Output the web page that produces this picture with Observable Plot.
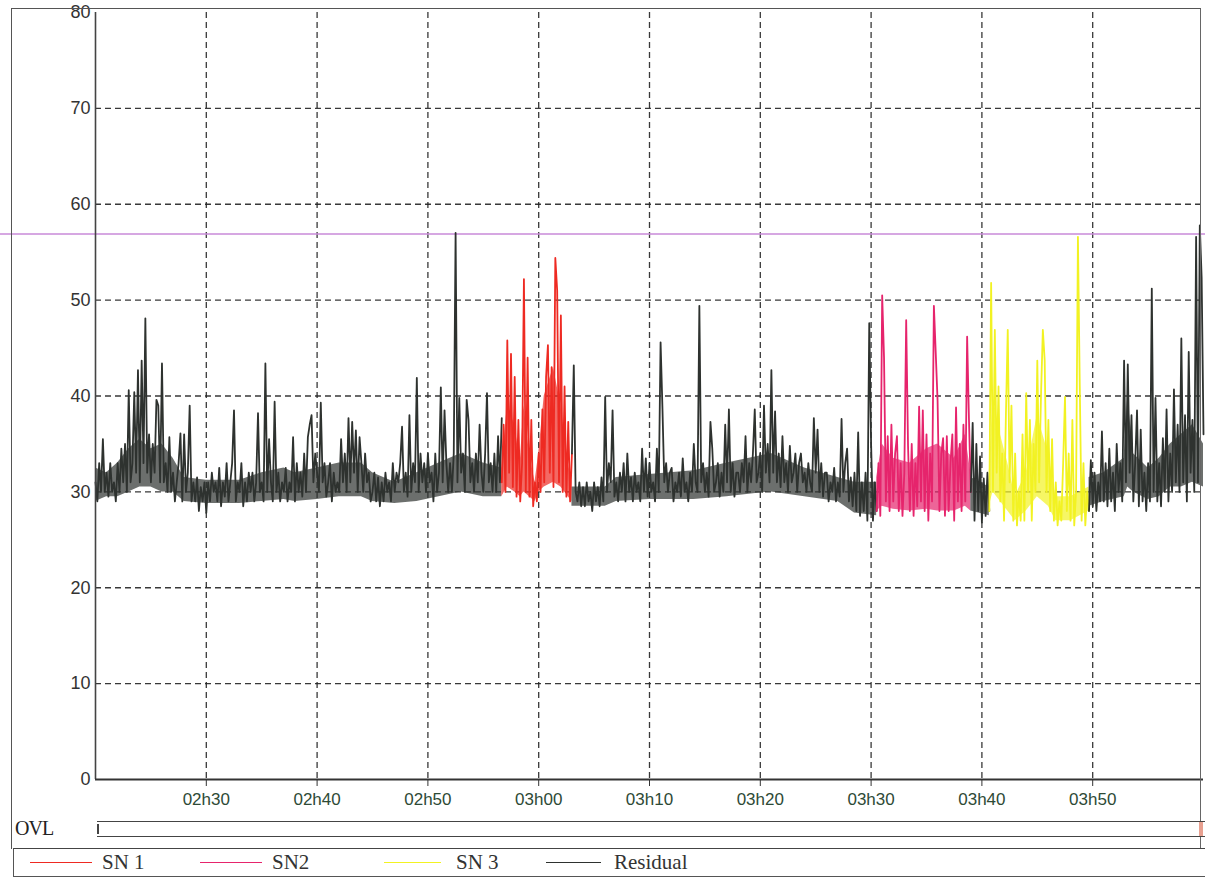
<!DOCTYPE html>
<html>
<head>
<meta charset="utf-8">
<script src="https://cdn.jsdelivr.net/npm/d3@7"></script>
<script src="https://cdn.jsdelivr.net/npm/@observablehq/plot@0.6"></script>
<style>
  html, body { margin: 0; padding: 0; background: #fff; }
  body { width: 1205px; height: 877px; position: relative; overflow: hidden; font-family: "Liberation Sans", Arial, sans-serif; }
  #chart { position: absolute; left: 0; top: 0; }
  #frame { position: absolute; left: 11px; top: 8px; width: 1188px; height: 840px; border-left: 1.5px solid #555; border-top: 1.5px solid #555; border-right: 1.5px solid #666; }
  #ovlLabel { position: absolute; left: 15px; top: 817px; font-family: "Liberation Serif", "Times New Roman", serif; font-size: 20px; color: #222; letter-spacing: -1px; }
  #ovlBar { position: absolute; left: 97px; top: 821px; width: 1108px; height: 14px; border-top: 1.5px solid #444; border-bottom: 1.5px solid #444; }
  #ovlTick { position: absolute; left: 0px; top: 2px; width: 1.5px; height: 10px; background: #444; }
  #ovlEnd { position: absolute; right: 2px; top: 0px; width: 4px; height: 14px; background: #e8a090; }
  #legendBox { position: absolute; left: 13px; top: 848px; width: 1192px; height: 27px; border-top: 1.5px solid #444; border-left: 1.5px solid #555; border-bottom: 1.5px solid #555; }
  .swatch { position: absolute; top: 13px; height: 1.4px; }
  .lbl { position: absolute; top: 1px; font-family: "Liberation Serif", "Times New Roman", serif; font-size: 21px; color: #333; white-space: nowrap; }
</style>
</head>
<body>
<div id="chart"></div>
<div id="frame"></div>
<div id="ovlLabel">OVL</div>
<div id="ovlBar"><div id="ovlTick"></div><div id="ovlEnd"></div></div>
<div id="legendBox"></div>
<script>
// ---------- data ----------
const day = "2000-01-01T";
const domainStart = "02:20:00";
const domainEnd = "04:00:00";
const xTickTimes = ["02:30","02:40","02:50","03:00","03:10","03:20","03:30","03:40","03:50"];
const xTickLabels = ["02h30","02h40","02h50","03h00","03h10","03h20","03h30","03h40","03h50"];
const yTicks = [0,10,20,30,40,50,60,70,80];
const yGrid = [10,20,30,40,50,60,70];
const thresholdLevel = 56.9;
const sampleSeconds = 10;

const seriesNames = ["SN 1","SN2","SN 3","Residual"];
const seriesColors = ["#ee2a22","#e6246c","#f2f222","#2e322f"];

// Residual, 02h20:00 -> 02h56:40 (10 s samples)
const residual1Start = "02:20:00";
const residual1 = [
  31,29,33,30,35.5,30,
  32,29.5,33,30,31,29,
  33,30,34.5,31,35,30,
  40.6,31,33,40.4,32,42.7,
  31,43.7,33,48.1,32,36,
  31,35,32,39.6,39,31,
  43.4,31,33,30,35.7,30,
  32,29,31,33,36.1,29,
  36,30,32,39,29,31,
  29,31.5,28,30.5,29,31,
  27.8,31,29,32,30,31,
  29,32.5,28.5,31,29.5,33,
  29,31,33,38.5,29,31,
  30,33,28.5,31,29,32,
  30,32,29,31,38.2,30,
  31,29,43.4,30,35.5,31,
  29,39.4,30,32,29,31,
  30,32.5,29,31,30,35.7,
  29,33,30,32,29.5,34,
  30,35.7,37,38,31,34,
  32,30,39.3,31,33,29.5,
  31,33,29,32,30,31,
  30,35.5,31,34,30,37.7,
  31,37.3,32,36.4,30,35.7,
  33,30,34,31,32,29,
  30,32,29,31.5,28.5,31,
  29,32,30,31,29,33,
  30,32,31,33,36.8,30,
  32,29.5,38,30,33,31,
  41.9,30,34,31,33,30,
  34,31,32,29,34,30,
  32,40.9,31,38.5,33,30,
  33,30,34,57,31,39.8,
  32,34,30,39.6,37.5,31,
  33,30,34,31,37,32,
  30,34,40.3,31,33,30,
  34,30,35.8,31,37.7
];

// SN 1, 02h56:40 -> 03h03:00
const sn1Start = "02:56:40";
const sn1 = [
  31,37,30,45.8,32,44.4,30.5,42,29.5,37.5,29,33,52.2,30,44,29.5,37.5,28.5,31,29,
  34,30,38.6,31,42,45.3,32,43,30.5,54.4,51,31,48.4,30,41,29.5,37.3,29,34
];

// Residual, 03h03:00 -> 03h30:30
const residual2Start = "03:03:00";
const residual2 = [
  34,43.2,30,29,31,28.5,
  30.5,28.5,31,29,30,28,
  31,29,30.5,28.5,31.5,29,
  39.9,30,33,31,38.5,29.5,
  31,29,32,30,33,29,
  34,30,31.5,29,32,30,
  31,29,34.5,30,33.5,29.5,
  33,30,31,29,34.5,30,
  45.6,38.8,31,33,30,32,
  32.5,29,31,30,32,29.5,
  33.5,30,31,29,32,30,
  35,31,30,49.4,31,33,
  30,32,29.5,37.3,34.5,30,
  31,33,29.5,32,30,37,
  31,38.6,30,33,29.5,32,
  32,30,33,31,35.8,30,
  33,31,34,38.6,31,32,
  34,30,39,32,35,31,
  42.7,32,38.4,31,34,30.5,
  35.8,31,33,30,34.8,31,
  32,34,30,33,34,31,
  32,30,33,31,30,37.7,
  32,36.5,30,33,29.5,32,
  32,29,31,30,32.5,29,
  31,29.5,37.6,30,33,34.5,
  29,31.5,28.5,32,28,36.2,
  27.5,31,28,32,27,47.6,
  35,27,31,28
];

// SN2, 03h30:30 -> 03h39:00
const sn2Start = "03:30:30";
const sn2 = [
  28,33,27.5,50.5,44,29,35.8,28,37,29,34,35.8,28,33,27.5,32,47.9,34.8,28,35,
  27.5,33,28.5,38.9,29,38.5,28,36,27,34,29,49.4,44.5,39.5,28,34,35.6,27.5,35.8,28,
  33,36,27,38.8,29,35,28,37,29,46.2,37.5,30
];

// Residual, 03h39:00 -> 03h40:40
const residual3Start = "03:39:00";
const residual3 = [30,37.2,27,35,28,33.7,26.8,31.4,27.5,32,28];

// SN 3, 03h40:40 -> 03h49:40
const sn3Start = "03:40:40";
const sn3 = [
  28,51.8,30,46.9,32,41,29,34,27,38,46.9,31,39,27,34,26.5,30,27,36,27,
  40.3,30,37.5,27,35,30,43.7,31,40,46.9,43.7,30,37.5,28,35.5,27,31,26.5,29,27,
  33,39.9,28,34,27,37.5,26.5,30,56.6,41,27,33,26.5,30,28
];

// Residual, 03h49:40 -> 04h00:00
const residual4Start = "03:49:40";
const residual4 = [
  28,33.3,28.5,32,28,31,29,36.3,29,33,28.5,34.5,29,32,28,35,30,33,29,43.7,
  31,43.3,32,38,29,33,38.5,28.5,36.5,29,32,28,33,29,51.2,30,39.8,29,33,28.5,
  35.6,30,38.6,29,34,30,40.7,31,37,30,46,31,38,29,44.6,32,37.5,30,56.6,31,
  57.8,52.3,36
];

// Dense core of each trace (where the 1 s samples pile up): [time, low, high]
const residual1Core = [
  ["02:20:00",29,32.5],["02:21:00",29.5,32],["02:22:00",29.5,33],["02:23:00",30,34.5],
  ["02:24:00",30.5,35.5],["02:25:00",30.5,34.5],["02:26:00",30,35],["02:27:00",30,33.5],
  ["02:28:00",29,31.5],["02:30:00",28.8,31.2],["02:33:00",28.8,31.2],["02:35:00",29,32],
  ["02:37:00",29.2,32.5],["02:38:00",29,32],["02:40:00",29.2,32.5],["02:42:00",29.5,33],
  ["02:44:00",29.5,33],["02:45:00",29,32],["02:47:00",28.8,31],["02:49:00",29,32],
  ["02:51:00",29.5,33],["02:53:00",30,34],["02:55:00",29.5,33],["02:56:40",29.5,32.5]
];
const sn1Core = [
  ["02:56:40",29.5,32.5],["02:57:10",30.5,39],["02:57:50",30,37],["02:58:20",29.5,33],
  ["02:58:40",30,39],["02:59:10",29.5,34],["02:59:40",29,31],["03:00:00",30,34],
  ["03:00:30",30.5,40],["03:01:20",31,43],["03:02:00",30.5,39],["03:02:40",29.5,33],["03:03:00",29,31]
];
const residual2Core = [
  ["03:03:00",28.5,30.5],["03:06:00",28.5,30.5],["03:07:00",29,31.5],["03:10:00",29.2,31.8],
  ["03:14:00",29.2,32.2],["03:17:00",29.5,33],["03:21:00",30,34],["03:24:00",29.5,32.5],
  ["03:27:00",29,31.5],["03:28:30",27.8,31],["03:30:30",27.5,31]
];
const sn2Core = [
  ["03:30:30",28,31.5],["03:31:00",28.5,35],["03:32:00",28.2,33.5],["03:33:30",28,33],
  ["03:35:00",28.2,34.5],["03:36:00",28,35],["03:37:30",28,33.5],["03:38:30",28.5,36],["03:39:00",28,32]
];
const residual3Core = [["03:39:00",28,31.5],["03:40:40",27.5,30.5]];
const sn3Core = [
  ["03:40:40",28.5,32],["03:41:00",30,40],["03:41:40",29,36],["03:42:20",28,33],
  ["03:43:00",27,29.5],["03:44:00",28,32],["03:45:00",29.5,38],["03:46:00",28.5,34],
  ["03:46:40",27,29.5],["03:48:00",27,29.5],["03:49:40",28,30.5]
];
const residual4Core = [
  ["03:49:40",28.5,31.5],["03:51:00",29,32],["03:52:50",29.5,33.5],["03:53:10",30.5,40],
  ["03:53:40",30,34],["03:55:00",29.2,32.5],["03:56:00",29.5,33.5],["03:57:00",30.5,35],
  ["03:58:00",30.5,36],["03:59:00",31,37],["04:00:00",30.5,35]
];

const segments = [
  {series: "Residual", start: residual1Start, values: residual1, core: residual1Core},
  {series: "SN 1", start: sn1Start, values: sn1, core: sn1Core},
  {series: "Residual", start: residual2Start, values: residual2, core: residual2Core},
  {series: "SN2", start: sn2Start, values: sn2, core: sn2Core},
  {series: "Residual", start: residual3Start, values: residual3, core: residual3Core},
  {series: "SN 3", start: sn3Start, values: sn3, core: sn3Core},
  {series: "Residual", start: residual4Start, values: residual4, core: residual4Core}
];

// ---------- build ----------
const toDate = (hms) => new Date(day + (hms.length === 5 ? hms + ":00" : hms));
const rows = [];
const coreRows = [];
segments.forEach((seg, k) => {
  const t0 = toDate(seg.start).getTime();
  seg.values.forEach((v, i) => {
    rows.push({seg: k, series: seg.series, time: new Date(t0 + i * sampleSeconds * 1000), value: v});
  });
  seg.core.forEach(([t, lo, hi]) => {
    coreRows.push({seg: k, series: seg.series, time: toDate(t), lo, hi});
  });
});

const xStart = toDate(domainStart);
const xEnd = toDate(domainEnd);
const xTickDates = xTickTimes.map(toDate);
const labelFor = new Map(xTickDates.map((d, i) => [d.getTime(), xTickLabels[i]]));

const chart = Plot.plot({
  width: 1205,
  height: 815,
  marginLeft: 95,
  marginRight: 2,
  marginTop: 12,
  marginBottom: 36,
  style: {background: "transparent", fontFamily: "Liberation Sans, Arial, sans-serif", overflow: "visible"},
  x: {type: "time", domain: [xStart, xEnd], axis: null, label: null},
  y: {domain: [0, 80], axis: null, label: null},
  color: {domain: seriesNames, range: seriesColors},
  marks: [
    Plot.gridY(yGrid, {stroke: "#222", strokeOpacity: 0.9, strokeWidth: 1.3, strokeDasharray: "6,4"}),
    Plot.gridX(xTickDates, {stroke: "#222", strokeOpacity: 0.9, strokeWidth: 1.3, strokeDasharray: "6,4"}),
    Plot.ruleY([thresholdLevel], {
      x1: new Date(xStart.getTime() - 9 * 60000),
      x2: new Date(xEnd.getTime() + 60000),
      stroke: "#c98ad8", strokeWidth: 1.4, clip: false
    }),
    Plot.areaY(coreRows, {x: "time", y1: "lo", y2: "hi", z: "seg", fill: "series", fillOpacity: 0.7, curve: "linear"}),
    Plot.line(rows, {x: "time", y: "value", z: "seg", stroke: "series", strokeWidth: 1.8, strokeLinejoin: "round", curve: "linear"}),
    Plot.ruleX([xStart], {stroke: "#444", strokeWidth: 1.6}),
    Plot.ruleY([0], {stroke: "#333", strokeWidth: 1.8}),
    Plot.axisY({ticks: yTicks, label: null, tickSize: 0, tickPadding: 5, fontSize: 18, fill: "#333", tickFormat: d => String(d)}),
    Plot.axisX({ticks: xTickDates, label: null, tickSize: 7, tickPadding: 6, fontSize: 17, fill: "#2e4a36", stroke: "#333",
      tickFormat: d => labelFor.get(d.getTime())})
  ]
});
document.getElementById("chart").appendChild(chart);

// ---------- legend ----------
const legendPositions = [
  {swatch: [16, 62], text: 88},
  {swatch: [186, 62], text: 258},
  {swatch: [370, 57], text: 442},
  {swatch: [532, 55], text: 600}
];
const box = document.getElementById("legendBox");
seriesNames.forEach((name, i) => {
  const p = legendPositions[i];
  const sw = document.createElement("div");
  sw.className = "swatch";
  sw.style.left = p.swatch[0] + "px";
  sw.style.width = p.swatch[1] + "px";
  sw.style.background = seriesColors[i];
  box.appendChild(sw);
  const t = document.createElement("div");
  t.className = "lbl";
  t.style.left = p.text + "px";
  t.textContent = name;
  box.appendChild(t);
});
</script>
</body>
</html>
